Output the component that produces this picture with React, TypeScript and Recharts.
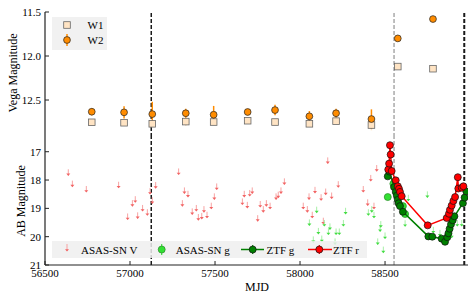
import React from 'react';
import { ScatterChart, Scatter, XAxis, YAxis, ErrorBar, ReferenceLine } from 'recharts';

// WISE photometry (Vega)
const wiseMjd = [56775, 56965, 57131, 57328, 57492, 57692, 57853, 58055, 58212, 58420, 58575, 58782];
const w1Mag = [12.753, 12.758, 12.77, 12.745, 12.75, 12.735, 12.75, 12.77, 12.74, 12.784, 12.12, 12.144];
const w1Err = [0.03, 0.03, 0.04, 0.05, 0.03, 0.02, 0.03, 0.03, 0.02, 0.06, 0.02, 0.02];
const w2Mag = [12.633, 12.64, 12.66, 12.65, 12.667, 12.636, 12.614, 12.685, 12.65, 12.716, 11.8, 11.58];
const w2Err = [0.04, 0.07, 0.14, 0.05, 0.1, 0.03, 0.06, 0.06, 0.05, 0.11, 0.03, 0.01];

// ASAS-SN V upper limits
const asasVMjd = [56637, 56661, 56743, 56933, 56986, 57014, 57031, 57045, 57074, 57102, 57118, 57131, 57151,
  57286, 57308, 57320, 57341, 57366, 57390, 57402, 57422, 57435, 57453, 57478, 57496, 57510,
  57661, 57672, 57690, 57704, 57719, 57751, 57766, 57784, 57802, 57824, 57859, 57872, 57888, 57908,
  58019, 58043, 58053, 58072, 58088, 58124, 58137, 58151, 58163, 58186, 58225,
  58372, 58398, 58416, 58435, 58451];
const asasVLim = [17.62, 18.02, 18.21, 18.06, 19.18, 18.71, 18.57, 19.14, 18.88, 19.03, 18.28, 18.61, 18.07,
  17.59, 18.71, 18.26, 18.38, 19.0, 18.88, 19.2, 19.16, 18.92, 19.12, 18.8, 18.47, 18.12,
  18.65, 18.38, 18.77, 18.35, 18.26, 19.24, 18.74, 18.92, 18.71, 18.8, 18.47, 18.41, 18.26, 17.94,
  18.8, 18.92, 18.47, 19.12, 18.24, 18.5, 19.33, 18.3, 17.2, 18.44, 18.04,
  18.21, 18.68, 17.82, 18.8, 17.47];

// ASAS-SN g upper limits
const asasGLimMjd = [58055, 58078, 58098, 58108, 58128, 58143, 58167, 58176, 58206, 58212, 58231, 58255, 58268,
  58402, 58422, 58435, 58457, 58471, 58475, 58490, 58500, 58618, 58637, 58749, 58784, 58823, 58892, 58925, 58951];
const asasGLim = [19.39, 19.99, 18.94, 19.69, 19.96, 19.41, 19.71, 19.53, 20.06, 19.71, 19.71, 19.41, 18.98,
  19.03, 18.92, 19.12, 20.06, 19.6, 19.45, 20.35, 19.85, 19.42, 18.52, 18.4, 19.65, 19.76, 19.82, 19.41, 19.41];

// ASAS-SN g detections
const asasGMjd = [58516, 58549, 58605, 58618];
const asasGMag = [18.6, 18.13, 18.92, 19.2];

// ZTF g
const ztfGMjd = [58516, 58526, 58553, 58563, 58570, 58575, 58580, 58588, 58605,
  58755, 58778, 58833, 58853, 58866, 58873, 58880, 58888, 58898, 58908, 58958, 58968, 58978];
const ztfGMag = [17.87, 17.7, 18.25, 18.42, 18.55, 18.7, 18.82, 18.92, 19.12,
  19.99, 20.0, 20.07, 20.18, 20.02, 19.88, 19.72, 19.56, 19.42, 19.28, 18.82, 18.62, 18.4];

// ZTF r
const ztfRMjd = [58519, 58524, 58529, 58533, 58539, 58563, 58575, 58582, 58588, 58598,
  58751, 58863, 58876, 58882, 58892, 58902, 58912, 58928, 58931, 58951, 58961];
const ztfRMag = [17.63, 17.42, 16.77, 17.1, 17.68, 18.01, 18.22, 18.31, 18.42, 18.57,
  19.6, 19.34, 19.19, 19.05, 18.9, 18.74, 18.6, 17.9, 18.3, 18.27, 18.22];

const xTicks = [56500, 57000, 57500, 58000, 58500];
const topTicks = [11.5, 12.0, 12.5];
const botTicks = [17, 18, 19, 20, 21];
const eventLines = [57125, 58553, 58966];

const xDomain = [56500, 58988];
const AX = '#222';
const tickStyle = { fill: '#000', fontSize: 11 };

const w1Data = wiseMjd.map((m, i) => ({ mjd: m, mag: w1Mag[i], err: w1Err[i] }));
const w2Data = wiseMjd.map((m, i) => ({ mjd: m, mag: w2Mag[i], err: w2Err[i] }));
const vData = asasVMjd.map((m, i) => ({ mjd: m, mag: asasVLim[i] }));
const gLimData = asasGLimMjd.map((m, i) => ({ mjd: m, mag: asasGLim[i] }));
const gData = asasGMjd.map((m, i) => ({ mjd: m, mag: asasGMag[i], err: 0.1 }));
const ztfGData = ztfGMjd.map((m, i) => ({ mjd: m, mag: ztfGMag[i], err: 0.08 }));
const ztfRData = ztfRMjd.map((m, i) => ({ mjd: m, mag: ztfRMag[i], err: 0.06 }));

const Square = (p: any) => (
  <rect x={p.cx - 3.3} y={p.cy - 3.3} width={6.6} height={6.6} fill="#ffe4c4" stroke="#666" strokeWidth={0.8} />
);
const dot = (fill: string, stroke: string, r: number) => (p: any) => (
  <circle cx={p.cx} cy={p.cy} r={r} fill={fill} stroke={stroke} strokeWidth={0.7} />
);
const arrow = (stem: string, head: string) => (p: any) => (
  <g>
    <line x1={p.cx} y1={p.cy} x2={p.cx} y2={p.cy + 6} stroke={stem} strokeWidth={1} />
    <path d={`M${p.cx - 2},${p.cy + 4.2} L${p.cx + 2},${p.cy + 4.2} L${p.cx},${p.cy + 6.6} Z`} fill={head} />
  </g>
);

const axisLabel = (text: string, x: number, y: number, rotate = false) => () => (
  <text x={x} y={y} textAnchor="middle" dominantBaseline="central" fontSize={12} fill="#000"
    transform={rotate ? `rotate(-90 ${x} ${y})` : undefined}>{text}</text>
);

function frameAxes(yDomain: number[], yTicks: number[]) {
  return [
    <XAxis key="xt" xAxisId="top" orientation="top" type="number" dataKey="mjd" domain={xDomain} ticks={xTicks}
      height={0} tick={false} tickSize={-4} axisLine={{ stroke: AX, strokeWidth: 1.2 }} tickLine={{ stroke: AX }}
      allowDataOverflow interval={0} />,
    <YAxis key="yr" yAxisId="right" orientation="right" type="number" dataKey="mag" domain={yDomain} ticks={yTicks}
      reversed width={0} tick={false} tickSize={-4} axisLine={{ stroke: AX, strokeWidth: 1.2 }} tickLine={{ stroke: AX }}
      allowDataOverflow interval={0} />,
  ];
}

function refLines() {
  return eventLines.map((x, i) => (
    <ReferenceLine key={x} x={x} stroke={i === 1 ? '#aaa' : '#1a1a1a'} strokeWidth={i === 2 ? 2 : 1.5}
      strokeDasharray="4 2" />
  ));
}

const TopLegend = () => (
  <div style={{ position: 'absolute', left: 52, top: 17, width: 55, height: 33, background: 'rgba(238,238,238,0.85)' }}>
    <svg width={55} height={33} style={{ position: 'absolute', left: 0, top: 0 }}>
      <rect x={11.7} y={4.7} width={6.6} height={6.6} fill="#ffe4c4" stroke="#666" strokeWidth={0.8} />
      <line x1={15} y1={17} x2={15} y2={29} stroke="#ff8c00" strokeWidth={1.5} />
      <circle cx={15} cy={23} r={3.4} fill="#ff8c00" stroke="#222" strokeWidth={0.7} />
      <text x={35.5} y={8} dominantBaseline="central" fontSize={11}>W1</text>
      <text x={35.5} y={23} dominantBaseline="central" fontSize={11}>W2</text>
    </svg>
  </div>
);

const BottomLegend = () => (
  <div style={{ position: 'absolute', left: 52, top: 241, width: 315, height: 17, background: 'rgba(238,238,238,0.85)' }}>
    <svg width={315} height={17} style={{ position: 'absolute', left: 0, top: 0 }}>
      <line x1={15} y1={3} x2={15} y2={10} stroke="#f7a3a3" strokeWidth={1} />
      <path d="M13,8.2 L17,8.2 L15,10.6 Z" fill="#f26464" />
      <text x={29} y={8.5} dominantBaseline="central" fontSize={11}>ASAS-SN V</text>
      <line x1={109.7} y1={3} x2={109.7} y2={14} stroke="#44dd44" strokeWidth={1.2} />
      <circle cx={109.7} cy={8.5} r={3.5} fill="#33e033" stroke="#2a8a2a" strokeWidth={0.7} />
      <text x={123.7} y={8.5} dominantBaseline="central" fontSize={11}>ASAS-SN g</text>
      <line x1={189} y1={8.5} x2={212} y2={8.5} stroke="#008000" strokeWidth={1.5} />
      <line x1={200.7} y1={4} x2={200.7} y2={13} stroke="#008000" strokeWidth={1.2} />
      <circle cx={200.7} cy={8.5} r={3.5} fill="#008000" stroke="#111" strokeWidth={0.7} />
      <text x={214.5} y={8.5} dominantBaseline="central" fontSize={11}>ZTF g</text>
      <line x1={256} y1={8.5} x2={280} y2={8.5} stroke="#ff0000" strokeWidth={1.5} />
      <line x1={267.3} y1={4} x2={267.3} y2={13} stroke="#ff0000" strokeWidth={1.2} />
      <circle cx={267.3} cy={8.5} r={3.5} fill="#ff0000" stroke="#111" strokeWidth={0.7} />
      <text x={281} y={8.5} dominantBaseline="central" fontSize={11}>ZTF r</text>
    </svg>
  </div>
);

export default function App() {
  const topDomain = [11.5, 12.92];
  const botDomain = [16.48, 21];
  return (
    <div style={{ position: 'absolute', left: 0, top: 0, width: 476, height: 301, background: '#fff',
      fontFamily: "'Liberation Serif', serif" }}>
      <div style={{ position: 'absolute', left: 0, top: 0 }}>
        <ScatterChart width={476} height={140} margin={{ top: 12, right: 8, left: 0, bottom: 3 }}>
          <XAxis type="number" dataKey="mjd" domain={xDomain} ticks={xTicks} height={0} tick={false} tickSize={-4}
            axisLine={{ stroke: AX, strokeWidth: 1.2 }} tickLine={{ stroke: AX }} allowDataOverflow interval={0} />
          <YAxis type="number" dataKey="mag" domain={topDomain} ticks={topTicks} reversed width={45}
            tickFormatter={(v: number) => v.toFixed(1)} tick={tickStyle} tickSize={-4} tickMargin={8}
            axisLine={{ stroke: AX, strokeWidth: 1.2 }} tickLine={{ stroke: AX }} allowDataOverflow interval={0}
            label={axisLabel('Vega Magnitude', 12.5, 73, true)} />
          {frameAxes(topDomain, topTicks)}
          {refLines()}
          <Scatter data={w1Data} shape={Square} isAnimationActive={false}>
            <ErrorBar dataKey="err" direction="y" width={0} stroke="#ffe4c4" strokeWidth={1.5} />
          </Scatter>
          <Scatter data={w2Data} shape={dot('#ff8c00', '#222', 3.4)} isAnimationActive={false}>
            <ErrorBar dataKey="err" direction="y" width={0} stroke="#ff8c00" strokeWidth={1.5} />
          </Scatter>
        </ScatterChart>
      </div>
      <div style={{ position: 'absolute', left: 0, top: 134 }}>
        <ScatterChart width={476} height={167} margin={{ top: 3, right: 8, left: 0, bottom: 0 }}>
          <XAxis type="number" dataKey="mjd" domain={xDomain} ticks={xTicks} height={36} tick={tickStyle}
            tickSize={-4} tickMargin={8} axisLine={{ stroke: AX, strokeWidth: 1.2 }} tickLine={{ stroke: AX }}
            allowDataOverflow interval={0} label={axisLabel('MJD', 257, 152.5)} />
          <YAxis type="number" dataKey="mag" domain={botDomain} ticks={botTicks} reversed width={45}
            tick={tickStyle} tickSize={-4} tickMargin={8} axisLine={{ stroke: AX, strokeWidth: 1.2 }}
            tickLine={{ stroke: AX }} allowDataOverflow interval={0}
            label={axisLabel('AB Magnitude', 21, 67, true)} />
          {frameAxes(botDomain, botTicks)}
          {refLines()}
          <Scatter data={vData} shape={arrow('#f7a3a3', '#f26464')} isAnimationActive={false} />
          <Scatter data={gLimData} shape={arrow('#a6f0a6', '#44dd44')} isAnimationActive={false} />
          <Scatter data={gData} shape={dot('#33e033', '#2a8a2a', 3.5)} isAnimationActive={false}>
            <ErrorBar dataKey="err" direction="y" width={0} stroke="#44dd44" strokeWidth={1.2} />
          </Scatter>
          <Scatter data={ztfGData} shape={dot('#008000', '#111', 3.5)} line={{ stroke: '#008000', strokeWidth: 1.5 }}
            isAnimationActive={false}>
            <ErrorBar dataKey="err" direction="y" width={0} stroke="#008000" strokeWidth={1.2} />
          </Scatter>
          <Scatter data={ztfRData} shape={dot('#ff0000', '#111', 3.5)} line={{ stroke: '#ff0000', strokeWidth: 1.5 }}
            isAnimationActive={false}>
            <ErrorBar dataKey="err" direction="y" width={0} stroke="#ff0000" strokeWidth={1.2} />
          </Scatter>
        </ScatterChart>
      </div>
      <TopLegend />
      <BottomLegend />
    </div>
  );
}
